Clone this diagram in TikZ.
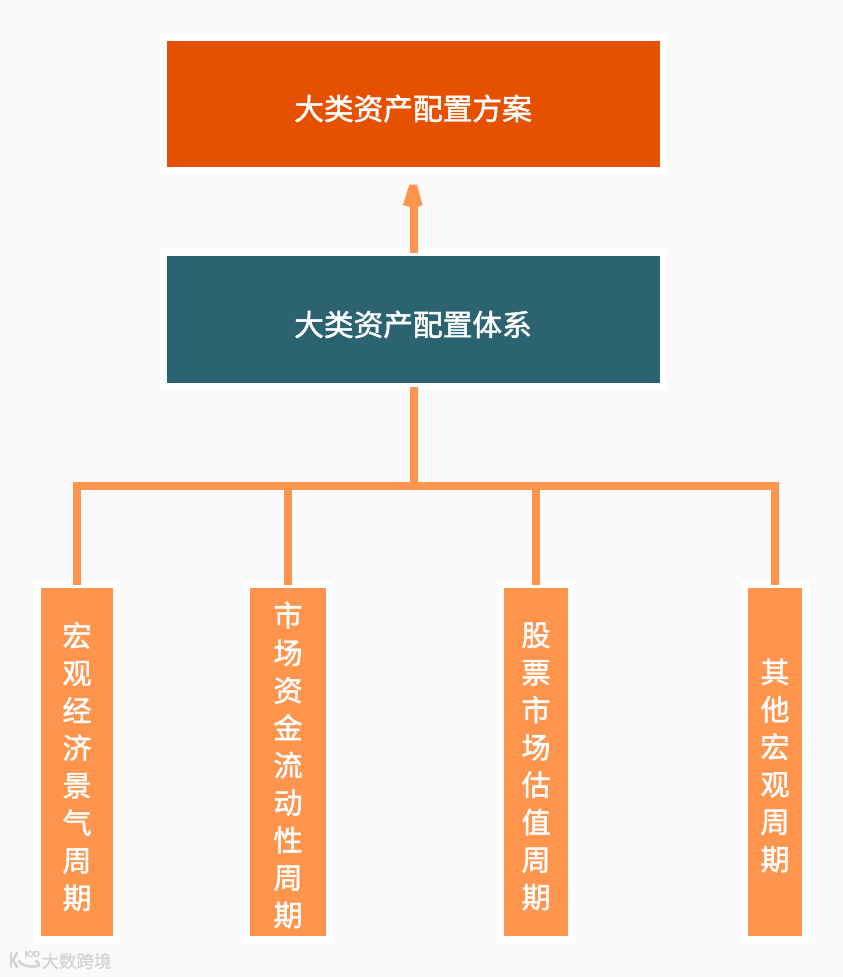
\documentclass[tikz,border=0pt]{standalone}
\usepackage{fontspec}
\newfontfamily\cjk[FakeBold=1.6]{Noto Sans CJK SC}
\newfontfamily\cjkwm[FakeBold=1]{Noto Sans CJK SC}
\definecolor{bgc}{HTML}{FAFAFA}
\definecolor{topc}{HTML}{E65100}
\definecolor{midc}{HTML}{2B6470}
\definecolor{orc}{HTML}{FF944D}
\definecolor{wm}{HTML}{D4D4D4}
\tikzset{
  box/.style={draw=white,line width=7pt,outer sep=0pt,inner sep=0pt},
  wide/.style={box,minimum width=500pt,minimum height=133pt},
  tall/.style={box,minimum height=355pt},
  htext/.style={text=white,inner sep=0pt,font=\cjk\fontsize{29.7}{32}\selectfont},
  vtext/.style={text=white,inner sep=0pt,align=center,font=\cjk\fontsize{29}{37.45}\selectfont},
  link/.style={draw=orc,line width=8pt},
  wmtext/.style={text=wm,inner sep=0pt,font=\cjkwm\fontsize{17.5}{20}\selectfont},
  wmline/.style={draw=wm,line width=2.6pt,line cap=round}
}
\begin{document}
\begin{tikzpicture}[x=1pt,y=-1pt]
\useasboundingbox (0,0) rectangle (843,977);
\fill[bgc] (0,0) rectangle (843,977);
\node[wide,fill=topc] (top) at (413.5,104) {};
\node[wide,fill=midc,minimum height=134pt] (mid) at (413.5,319.5) {};
\node[tall,fill=orc,minimum width=79pt] (b1) at (77,762) {};
\node[tall,fill=orc,minimum width=83pt] (b2) at (288,762) {};
\node[tall,fill=orc,minimum width=71pt] (b3) at (536,762) {};
\node[tall,fill=orc,minimum width=61pt] (b4) at (775,762) {};
\node[htext] (ttop) at (413,108.5) {大类资产配置方案};
\node[htext] (tmid) at (413,324.5) {大类资产配置体系};
\node[vtext] (t1) at (77,766.5) {宏\\观\\经\\济\\景\\气\\周\\期};
\node[vtext] (t2) at (288,765) {市\\场\\资\\金\\流\\动\\性\\周\\期};
\node[vtext] (t3) at (536,766.5) {股\\票\\市\\场\\估\\值\\周\\期};
\node[vtext] (t4) at (775,765.5) {其\\他\\宏\\观\\周\\期};
\coordinate (bus) at (mid.south |- 0,485.7);
\coordinate (head) at (mid.north |- 0,207);
\draw[link] (mid.north) -- (head);
\fill[orc] ([xshift=-4pt]head) -- ++(-6.5,-2) -- ++(6.3,-20.3) -- ++(7.7,0) -- ++(5.5,20.3) -- ++(-5,2) -- cycle;
\draw[link] (mid.south) -- (bus);
\draw[link] (b1.north) |- (bus) -| (b4.north);
\draw[link] (b2.north) -- (b2.north |- bus);
\draw[link] (b3.north) -- (b3.north |- bus);
\node[wmtext] (wmt) at (76.5,961) {大数跨境};
\coordinate (logo) at (11,960);
\draw[wmline] (logo) ++(0,-7) -- ++(0,14);
\draw[wmline] (logo) ++(6,-7) -- ++(-4,7) -- ++(4,7);
\draw[wmline] (logo) ++(8,1) .. controls +(2,7) and +(12,8) .. ++(17,0);
\draw[wmline,line width=1.5pt] (logo) ++(15,-9) -- ++(0,6);
\draw[wmline,line width=1.5pt] (logo) ++(19.5,-6) circle (2.6);
\draw[wmline,line width=1.5pt] (logo) ++(25.5,-6) circle (2.6);
\end{tikzpicture}
\end{document}
